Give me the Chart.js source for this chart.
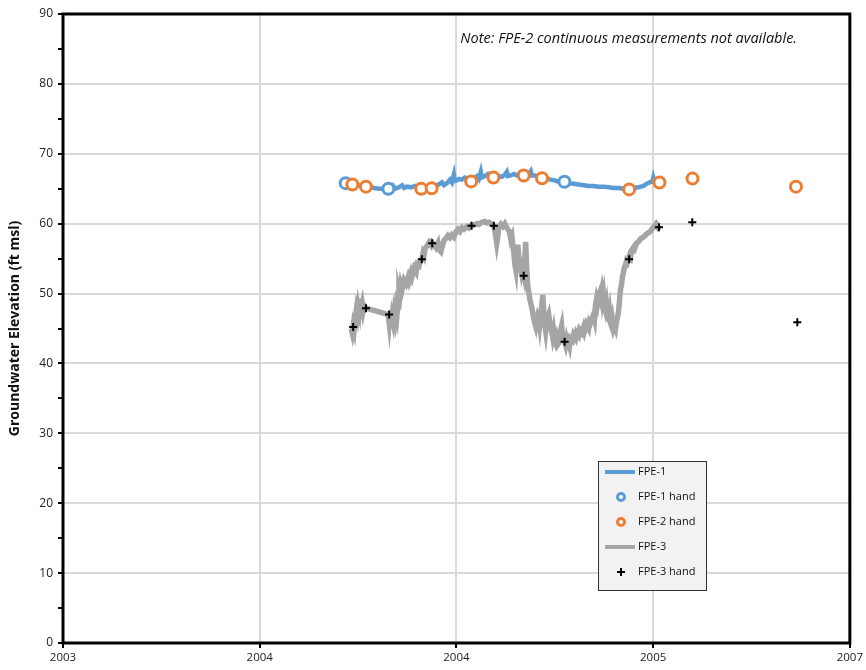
<!DOCTYPE html>
<html>
<head>
<meta charset="utf-8">
<script src="https://cdn.jsdelivr.net/npm/chart.js@4/dist/chart.umd.min.js"></script>
<style>
  html, body { margin: 0; padding: 0; background: #fff; }
  #wrap { width: 866px; height: 670px; }
</style>
</head>
<body>
<div id="wrap"><canvas id="gwChart" width="866" height="670"></canvas></div>
<script>
// x is in axis units: one unit per major tick interval
const TICK_LABELS = ['2003', '2004', '2004', '2005', '2007'];

// FPE-1 continuous transducer record [x, elevation]
const FPE1 = [
  [1.465, 65.7], [1.480, 65.5], [1.496, 65.6], [1.511, 65.4], [1.526, 65.5], [1.541, 65.3],
  [1.556, 65.3], [1.582, 65.1], [1.607, 65.0], [1.632, 65.0], [1.653, 65.0], [1.668, 65.1],
  [1.678, 65.4], [1.688, 65.0], [1.708, 65.2], [1.724, 65.5], [1.734, 65.1], [1.749, 65.3],
  [1.769, 65.2], [1.790, 65.4], [1.810, 65.2], [1.835, 65.3], [1.861, 65.3], [1.886, 65.4],
  [1.911, 65.6], [1.926, 65.9], [1.937, 65.5], [1.952, 65.8], [1.967, 66.3], [1.977, 65.9],
  [1.987, 67.0], [1.992, 66.1], [2.003, 66.2], [2.013, 66.4], [2.028, 66.3], [2.043, 66.6],
  [2.058, 66.4], [2.074, 66.3], [2.089, 66.5], [2.104, 66.8], [2.114, 66.4], [2.124, 67.4],
  [2.129, 66.6], [2.145, 66.8], [2.160, 67.1], [2.170, 66.7], [2.185, 66.9], [2.200, 66.6],
  [2.215, 66.8], [2.231, 66.7], [2.246, 67.0], [2.256, 67.4], [2.261, 66.8], [2.276, 66.9],
  [2.292, 67.1], [2.307, 66.9], [2.322, 67.2], [2.337, 67.0], [2.352, 66.9], [2.368, 67.1],
  [2.378, 67.5], [2.383, 66.9], [2.398, 66.9], [2.418, 66.7], [2.439, 66.5], [2.459, 66.4],
  [2.479, 66.3], [2.499, 66.2], [2.520, 66.0], [2.545, 65.9], [2.570, 65.8], [2.596, 65.7],
  [2.621, 65.6], [2.646, 65.5], [2.672, 65.4], [2.697, 65.4], [2.722, 65.3], [2.748, 65.3],
  [2.773, 65.2], [2.799, 65.1], [2.824, 65.1], [2.849, 65.0], [2.875, 65.0], [2.900, 65.1],
  [2.925, 65.2], [2.951, 65.4], [2.966, 65.7], [2.981, 65.9], [2.996, 66.0], [3.001, 66.6],
  [3.006, 66.1], [3.016, 66.3], [3.032, 66.2]
];

// hand measurements
const FPE1_HAND = [[1.437, 65.8], [1.654, 65.0], [2.549, 66.0]];
const FPE2_HAND = [
  [1.471, 65.6], [1.540, 65.3], [1.821, 65.0], [1.874, 65.05], [2.075, 66.05], [2.188, 66.6],
  [2.342, 66.9], [2.435, 66.5], [2.878, 64.9], [3.032, 65.9], [3.200, 66.45], [3.726, 65.3]
];
const FPE3_HAND = [
  [1.475, 45.2], [1.540, 47.9], [1.658, 47.0], [1.824, 54.9], [1.877, 57.2], [2.077, 59.7],
  [2.190, 59.7], [2.342, 52.55], [2.550, 43.1], [2.878, 54.9], [3.030, 59.5], [3.199, 60.2],
  [3.733, 45.9]
];

// FPE-3 continuous transducer record [x, elevation]
const FPE3 = [
  [1.465, 45.0], [1.470, 44.4], [1.475, 45.4], [1.480, 44.8], [1.486, 46.5], [1.491, 47.6],
  [1.496, 46.9], [1.501, 48.2], [1.506, 47.5], [1.511, 49.2], [1.516, 48.0], [1.521, 48.6],
  [1.526, 47.6], [1.531, 48.3], [1.541, 47.9],
  [1.653, 47.0], [1.658, 45.8], [1.663, 47.4], [1.668, 45.3], [1.673, 46.6], [1.678, 45.9],
  [1.683, 47.2], [1.688, 46.4], [1.693, 47.8], [1.698, 47.0], [1.703, 48.6], [1.708, 50.4],
  [1.713, 49.8], [1.718, 51.2], [1.724, 50.6], [1.734, 51.9], [1.744, 51.4], [1.754, 52.3],
  [1.759, 51.8], [1.769, 52.9], [1.774, 52.4], [1.785, 53.6], [1.795, 53.1], [1.800, 54.2],
  [1.810, 54.0], [1.815, 54.6], [1.825, 54.9], [1.830, 55.7], [1.835, 55.4], [1.840, 56.4],
  [1.850, 56.8], [1.861, 57.3], [1.871, 56.9], [1.876, 57.3], [1.886, 57.0], [1.896, 56.6],
  [1.906, 57.2], [1.911, 56.3], [1.921, 56.0], [1.926, 56.6], [1.937, 57.6], [1.947, 57.9],
  [1.957, 58.3], [1.967, 58.0], [1.977, 58.4], [1.987, 58.1], [1.997, 58.8], [2.008, 59.2],
  [2.018, 58.9], [2.028, 59.4], [2.038, 59.2], [2.053, 59.6], [2.063, 59.4], [2.074, 59.7],
  [2.089, 59.8], [2.104, 60.0], [2.114, 59.9], [2.129, 60.2], [2.145, 60.3], [2.155, 60.1],
  [2.165, 60.2], [2.180, 59.9], [2.190, 59.7], [2.195, 59.0], [2.200, 58.2], [2.205, 57.2],
  [2.210, 58.1], [2.215, 59.4], [2.226, 59.9], [2.236, 59.6], [2.246, 60.0], [2.256, 59.4],
  [2.266, 59.0], [2.271, 58.6], [2.276, 57.8], [2.282, 58.2], [2.287, 56.8], [2.292, 55.8],
  [2.297, 54.2], [2.302, 53.4], [2.307, 55.6], [2.312, 57.0], [2.317, 55.4], [2.322, 54.4],
  [2.327, 53.6], [2.332, 55.0], [2.337, 53.2], [2.342, 52.6], [2.347, 54.6], [2.352, 57.4],
  [2.357, 53.6], [2.363, 51.0], [2.368, 50.2], [2.373, 49.2], [2.378, 48.6], [2.383, 48.0],
  [2.388, 47.2], [2.393, 46.4], [2.398, 45.8], [2.403, 45.3], [2.408, 46.2], [2.413, 46.8],
  [2.418, 46.4], [2.423, 45.4], [2.428, 46.6], [2.434, 48.2], [2.439, 49.8], [2.444, 47.4],
  [2.449, 45.6], [2.454, 44.6], [2.459, 45.8], [2.464, 46.6], [2.469, 47.0], [2.474, 46.0],
  [2.479, 45.2], [2.484, 44.6], [2.489, 43.8], [2.494, 44.6], [2.499, 43.4], [2.504, 43.0],
  [2.509, 43.6], [2.515, 42.7], [2.520, 42.9], [2.525, 43.8], [2.530, 44.8], [2.535, 45.4],
  [2.540, 43.8], [2.545, 43.2], [2.550, 43.1], [2.555, 42.6], [2.560, 43.4], [2.565, 42.8],
  [2.570, 43.0], [2.575, 42.5], [2.580, 43.6], [2.590, 43.3], [2.596, 44.1], [2.606, 43.6],
  [2.611, 44.4], [2.621, 44.0], [2.626, 44.8], [2.636, 44.4], [2.646, 45.2], [2.651, 44.6],
  [2.661, 45.6], [2.672, 45.0], [2.677, 46.0], [2.682, 45.8], [2.692, 46.6], [2.697, 47.0],
  [2.702, 46.4], [2.707, 48.4], [2.712, 49.2], [2.717, 48.6], [2.722, 49.6], [2.727, 50.0],
  [2.732, 49.4], [2.738, 50.3], [2.743, 49.0], [2.748, 49.8], [2.753, 48.2], [2.758, 47.6],
  [2.763, 48.4], [2.768, 47.0], [2.773, 46.6], [2.778, 47.4], [2.783, 45.8], [2.788, 45.4],
  [2.793, 46.2], [2.799, 45.0], [2.804, 45.4], [2.809, 45.0], [2.814, 46.0], [2.819, 46.6],
  [2.824, 47.4], [2.829, 49.0], [2.834, 50.6], [2.839, 51.2], [2.844, 52.4], [2.849, 53.0],
  [2.854, 53.8], [2.859, 54.0], [2.864, 54.6], [2.869, 54.4], [2.875, 54.9], [2.880, 55.4],
  [2.885, 55.2], [2.890, 56.2], [2.900, 56.6], [2.905, 56.4], [2.915, 57.2], [2.925, 57.4],
  [2.935, 57.8], [2.946, 58.0], [2.956, 58.2], [2.966, 58.5], [2.976, 58.7], [2.986, 58.9],
  [2.996, 59.3], [3.006, 59.6], [3.016, 60.0], [3.021, 59.8], [3.027, 59.4], [3.032, 59.5]
];

const NOTE = 'Note: FPE-2 continuous measurements not available.';
const FONT = '"Open Sans", Lato, sans-serif';

const pts = arr => arr.map(([x, y]) => ({ x, y }));

// plot frame, note text and the boxed legend inside the plot
const chartExtras = {
  id: 'chartExtras',
  afterDraw(chart) {
    const { ctx, chartArea: a } = chart;
    ctx.save();
    ctx.strokeStyle = '#000';
    ctx.lineWidth = 3;
    ctx.strokeRect(a.left, a.top, a.right - a.left, a.bottom - a.top);

    ctx.font = 'italic 14.5px ' + FONT;
    ctx.fillStyle = '#111';
    ctx.textAlign = 'right';
    ctx.textBaseline = 'middle';
    ctx.fillText(NOTE, a.left + 734, a.top + 25);

    // legend
    const lx = a.left + 535, ly = a.top + 447, lw = 108, lh = 129;
    ctx.fillStyle = '#f2f2f2';
    ctx.fillRect(lx, ly, lw, lh);
    ctx.strokeStyle = '#333';
    ctx.lineWidth = 1;
    ctx.strokeRect(lx + 0.5, ly + 0.5, lw, lh);
    ctx.font = '11px ' + FONT;
    ctx.textAlign = 'left';
    chart.data.datasets.forEach((ds, i) => {
      const cy = ly + 11 + i * 25;
      if (ds.showLine) {
        ctx.strokeStyle = ds.borderColor;
        ctx.lineWidth = 4;
        ctx.beginPath();
        ctx.moveTo(lx + 7, cy);
        ctx.lineTo(lx + 37, cy);
        ctx.stroke();
      } else if (ds.pointStyle === 'cross') {
        ctx.strokeStyle = ds.pointBorderColor;
        ctx.lineWidth = ds.pointBorderWidth;
        ctx.beginPath();
        ctx.moveTo(lx + 19, cy); ctx.lineTo(lx + 27, cy);
        ctx.moveTo(lx + 23, cy - 4); ctx.lineTo(lx + 23, cy + 4);
        ctx.stroke();
      } else {
        ctx.strokeStyle = ds.pointBorderColor;
        ctx.fillStyle = '#fff';
        ctx.lineWidth = ds.pointBorderWidth;
        ctx.beginPath();
        ctx.arc(lx + 23, cy, 3.5, 0, Math.PI * 2);
        ctx.fill();
        ctx.stroke();
      }
      ctx.fillStyle = '#111';
      ctx.fillText(ds.label, lx + 40, cy);
    });
    ctx.restore();
  }
};

new Chart(document.getElementById('gwChart').getContext('2d'), {
  type: 'scatter',
  data: {
    datasets: [
      { label: 'FPE-1', data: pts(FPE1), showLine: true, borderColor: '#5b9bd5', borderWidth: 4.5,
        pointRadius: 0, tension: 0, order: 5 },
      { label: 'FPE-1 hand', data: pts(FPE1_HAND), pointStyle: 'circle', pointRadius: 5.5,
        pointBorderWidth: 3, pointBorderColor: '#5b9bd5', pointBackgroundColor: '#fff', order: 4 },
      { label: 'FPE-2 hand', data: pts(FPE2_HAND), pointStyle: 'circle', pointRadius: 5.5,
        pointBorderWidth: 3, pointBorderColor: '#ed7d31', pointBackgroundColor: '#fff', order: 3 },
      { label: 'FPE-3', data: pts(FPE3), showLine: true, borderColor: '#a5a5a5', borderWidth: 5.5,
        pointRadius: 0, tension: 0, order: 2 },
      { label: 'FPE-3 hand', data: pts(FPE3_HAND), pointStyle: 'cross', pointRadius: 4,
        pointBorderWidth: 2, pointBorderColor: '#000', order: 1 }
    ]
  },
  options: {
    responsive: false,
    animation: false,
    events: [],
    layout: { padding: { top: 14, right: 14, left: 0, bottom: 0 } },
    plugins: { legend: { display: false }, tooltip: { enabled: false } },
    scales: {
      x: {
        type: 'linear', min: 0, max: 4,
        afterFit: s => { s.height = 27; },
        border: { display: false },
        grid: { color: '#d9d9d9', lineWidth: 2, tickColor: '#000', tickLength: 5 },
        ticks: {
          stepSize: 1, maxRotation: 0, padding: 3, color: '#222',
          font: { family: FONT, size: 11.5 },
          callback: v => TICK_LABELS[v] ?? ''
        }
      },
      y: {
        min: 0, max: 90,
        afterFit: s => { s.width = 63; },
        border: { display: false },
        grid: {
          color: c => (c.tick && c.tick.value % 10 === 0) ? '#d9d9d9' : 'rgba(0,0,0,0)',
          lineWidth: 2, tickColor: '#000', tickLength: 5
        },
        ticks: {
          stepSize: 5, padding: 5, color: '#222',
          font: { family: FONT, size: 12 },
          callback: v => (v % 10 === 0 ? String(v) : '')
        },
        title: {
          display: true, text: 'Groundwater Elevation (ft msl)', color: '#111',
          font: { family: FONT, size: 14, weight: 'bold' }, padding: { top: 7, bottom: 0 }
        }
      }
    }
  },
  plugins: [chartExtras]
});
</script>
</body>
</html>
